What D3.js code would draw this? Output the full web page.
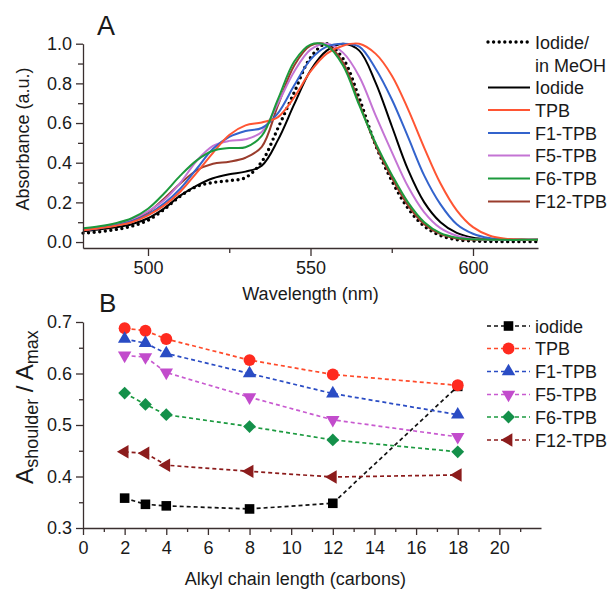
<!DOCTYPE html>
<html>
<head>
<meta charset="utf-8">
<script src="https://cdn.jsdelivr.net/npm/d3@7"></script>
<style>
  body { margin: 0; background: #fff; }
  text { font-family: "Liberation Sans", Arial, sans-serif; fill: #1a1a1a; }
  .axis path, .axis line { stroke: #3a2f2f; stroke-width: 1.3; }
  .axis text { font-size: 18px; fill: #1a1a1a; font-family: "Liberation Sans", Arial, sans-serif; }
</style>
</head>
<body>
<script>
// ---------- Panel A data: absorption spectra ----------
const wavelengths = [480,485,490,495,500,505,510,515,520,525,530,535,540,545,550,555,560,565,570,575,580,585,590,595,600,605,610,615,620];
const specMeOH  = [0.045,0.052,0.063,0.080,0.110,0.165,0.232,0.280,0.300,0.310,0.325,0.405,0.575,0.755,0.930,1.000,0.925,0.725,0.490,0.310,0.170,0.080,0.033,0.012,0.005,0.003,0.002,0.002,0.002];
const specIodide= [0.055,0.063,0.074,0.090,0.120,0.170,0.235,0.285,0.322,0.342,0.355,0.385,0.515,0.695,0.865,0.965,1.000,0.965,0.805,0.585,0.365,0.200,0.100,0.046,0.022,0.014,0.012,0.011,0.011];
const specTPB   = [0.060,0.070,0.082,0.100,0.135,0.185,0.255,0.350,0.450,0.540,0.588,0.603,0.630,0.730,0.860,0.950,0.990,1.000,0.950,0.840,0.670,0.475,0.295,0.160,0.075,0.033,0.017,0.013,0.012];
const specF1    = [0.060,0.070,0.085,0.105,0.140,0.195,0.270,0.370,0.470,0.530,0.560,0.575,0.650,0.790,0.920,0.985,1.000,0.985,0.875,0.720,0.530,0.335,0.190,0.090,0.042,0.020,0.013,0.012,0.012];
const specF5    = [0.065,0.075,0.090,0.115,0.155,0.212,0.300,0.410,0.485,0.510,0.518,0.555,0.700,0.860,0.970,1.000,0.955,0.835,0.640,0.455,0.280,0.150,0.070,0.032,0.016,0.012,0.011,0.011,0.011];
const specF6    = [0.070,0.080,0.095,0.120,0.168,0.246,0.336,0.412,0.460,0.474,0.478,0.535,0.720,0.910,0.995,0.990,0.890,0.690,0.500,0.340,0.200,0.100,0.045,0.022,0.014,0.012,0.011,0.011,0.011];
const specF12   = [0.062,0.072,0.086,0.108,0.150,0.220,0.296,0.362,0.395,0.405,0.425,0.480,0.690,0.890,0.990,0.995,0.905,0.700,0.490,0.325,0.185,0.090,0.040,0.018,0.012,0.011,0.011,0.011,0.011];
const specNames = ["Iodide/|in MeOH","Iodide","TPB","F1-TPB","F5-TPB","F6-TPB","F12-TPB"];
const wlTicks = [500,550,600];
const wlMinor = [525,575];
const absTicks = [0,0.2,0.4,0.6,0.8,1.0];
const absMinor = [0.1,0.3,0.5,0.7,0.9];

// ---------- Panel B data: shoulder ratio ----------
const chainLength = [2,3,4,8,12,18];
const ratioIodide = [0.358,0.346,0.343,0.337,0.348,0.575];
const ratioTPB    = [0.688,0.683,0.667,0.626,0.598,0.577];
const ratioF1     = [0.667,0.659,0.639,0.600,0.561,0.520];
const ratioF5     = [0.635,0.632,0.602,0.554,0.510,0.477];
const ratioF6     = [0.562,0.540,0.520,0.497,0.471,0.448];
const ratioF12    = [0.448,0.445,0.422,0.410,0.399,0.403];
const ratioNames  = ["iodide","TPB","F1-TPB","F5-TPB","F6-TPB","F12-TPB"];
const chainTicks = [0,2,4,6,8,10,12,14,16,18,20];
const chainMinor = [1,3,5,7,9,11,13,15,17,19,21];
const ratioTicks = [0.3,0.4,0.5,0.6,0.7];
const ratioMinor = [0.35,0.45,0.55,0.65];

const W = 610, H = 589;
const svg = d3.select("body").append("svg").attr("width", W).attr("height", H);

// ================= Panel A =================
const xA = d3.scaleLinear().domain([480, 620]).range([83, 538]);
const yA = d3.scaleLinear().domain([-0.03, 1.0]).range([248, 43.7]);

const specStyles = [
  {data: specMeOH,   color: "#000000", dotted: true},
  {data: specIodide, color: "#000000"},
  {data: specTPB,    color: "#ff5533"},
  {data: specF1,     color: "#3363cc"},
  {data: specF5,     color: "#c474d4"},
  {data: specF6,     color: "#1c9a3c"},
  {data: specF12,    color: "#9a3c2c"}
];

const lineA = d3.line().x(d => xA(d[0])).y(d => yA(d[1])).curve(d3.curveCatmullRom.alpha(0.5));
const drawOrder = [0,1,6,4,3,2,5];
drawOrder.forEach(i => {
  const s = specStyles[i];
  const pts = wavelengths.map((w, k) => [w, s.data[k]]);
  const p = svg.append("path").datum(pts).attr("d", lineA)
    .attr("fill", "none").attr("stroke", s.color);
  if (s.dotted) {
    p.attr("stroke-width", 3.4).attr("stroke-dasharray", "0,5.6").attr("stroke-linecap", "round");
  } else {
    p.attr("stroke-width", 2);
  }
});

// axes A
const gxA = svg.append("g").attr("class", "axis").attr("transform", "translate(0,248)")
  .call(d3.axisBottom(xA).tickValues(wlTicks).tickFormat(d3.format("d")).tickSize(8).tickPadding(5).tickSizeOuter(0));
svg.append("g").attr("class", "axis").attr("transform", "translate(0,248)")
  .call(d3.axisBottom(xA).tickValues(wlMinor).tickFormat("").tickSize(5).tickSizeOuter(0))
  .select(".domain").remove();
svg.append("g").attr("class", "axis").attr("transform", "translate(83,0)")
  .call(d3.axisLeft(yA).tickValues(absTicks).tickFormat(d3.format(".1f")).tickSize(7).tickPadding(4).tickSizeOuter(0));
svg.append("g").attr("class", "axis").attr("transform", "translate(83,0)")
  .call(d3.axisLeft(yA).tickValues(absMinor).tickFormat("").tickSize(5).tickSizeOuter(0))
  .select(".domain").remove();

svg.append("text").attr("x", 97).attr("y", 35).attr("font-size", 27).text("A");
svg.append("text").attr("transform", "translate(29,139) rotate(-90)").attr("text-anchor", "middle")
  .attr("font-size", 18).text("Absorbance (a.u.)");
svg.append("text").attr("x", xA(550)).attr("y", 300).attr("text-anchor", "middle")
  .attr("font-size", 18).text("Wavelength (nm)");

// legend A
const legA = svg.append("g");
const legARows = [42, 87.5, 110, 133, 155.5, 178.5, 201.5];
specStyles.forEach((s, i) => {
  const y = legARows[i];
  const l = legA.append("line").attr("x1", 488).attr("x2", 530).attr("y1", y).attr("y2", y)
    .attr("stroke", s.color);
  if (s.dotted) l.attr("stroke-width", 3.4).attr("stroke-dasharray", "0,5.6").attr("stroke-linecap", "round");
  else l.attr("stroke-width", 2);
  const parts = specNames[i].split("|");
  parts.forEach((t, j) => {
    legA.append("text").attr("x", 535).attr("y", y + 6.5 + j * 23).attr("font-size", 18).text(t);
  });
});

// ================= Panel B =================
const xB = d3.scaleLinear().domain([0, 22]).range([83, 541]);
const yB = d3.scaleLinear().domain([0.3, 0.7]).range([528, 322]);

const ratioStyles = [
  {data: ratioIodide, color: "#000000", line: "#111111", sym: "square"},
  {data: ratioTPB,    color: "#ff2a1f", line: "#ff4a2a", sym: "circle"},
  {data: ratioF1,     color: "#2a4cc4", line: "#2a4cc4", sym: "up"},
  {data: ratioF5,     color: "#c24ccc", line: "#c85ad0", sym: "down"},
  {data: ratioF6,     color: "#14904a", line: "#1c9a40", sym: "diamond"},
  {data: ratioF12,    color: "#8c1c1c", line: "#8c1c1c", sym: "left"}
];

function symbolPath(sym) {
  if (sym === "square") return {d: d3.symbol(d3.symbolSquare, 92)(), rot: 0};
  if (sym === "circle") return {d: d3.symbol(d3.symbolCircle, 112)(), rot: 0};
  if (sym === "diamond") return {d: d3.symbol(d3.symbolSquare, 82)(), rot: 45};
  const tri = d3.symbol(d3.symbolTriangle, 78)();
  if (sym === "up") return {d: tri, rot: 0};
  if (sym === "down") return {d: tri, rot: 180};
  return {d: tri, rot: -90};
}

const lineB = d3.line().x(d => xB(d[0])).y(d => yB(d[1]));
ratioStyles.forEach(s => {
  const pts = chainLength.map((c, k) => [c, s.data[k]]);
  svg.append("path").datum(pts).attr("d", lineB).attr("fill", "none")
    .attr("stroke", s.line).attr("stroke-width", 1.7).attr("stroke-dasharray", "4,3");
});
ratioStyles.forEach(s => {
  const sp = symbolPath(s.sym);
  chainLength.forEach((c, k) => {
    svg.append("path").attr("d", sp.d).attr("fill", s.color)
      .attr("transform", `translate(${xB(c)},${yB(s.data[k])}) rotate(${sp.rot})`);
  });
});

// axes B
svg.append("g").attr("class", "axis").attr("transform", "translate(0,528)")
  .call(d3.axisBottom(xB).tickValues(chainTicks).tickFormat(d3.format("d")).tickSize(7).tickPadding(6).tickSizeOuter(0));
svg.append("g").attr("class", "axis").attr("transform", "translate(0,528)")
  .call(d3.axisBottom(xB).tickValues(chainMinor).tickFormat("").tickSize(4).tickSizeOuter(0))
  .select(".domain").remove();
svg.append("g").attr("class", "axis").attr("transform", "translate(83,0)")
  .call(d3.axisLeft(yB).tickValues(ratioTicks).tickFormat(d3.format(".1f")).tickSize(7).tickPadding(4).tickSizeOuter(0));
svg.append("g").attr("class", "axis").attr("transform", "translate(83,0)")
  .call(d3.axisLeft(yB).tickValues(ratioMinor).tickFormat("").tickSize(4).tickSizeOuter(0))
  .select(".domain").remove();

svg.append("text").attr("x", 99).attr("y", 312).attr("font-size", 26).text("B");
const yl = svg.append("text").attr("transform", "translate(33,407) rotate(-90)").attr("text-anchor", "middle");
yl.append("tspan").attr("font-size", 24).text("A");
yl.append("tspan").attr("font-size", 18).attr("dy", 5).text("shoulder");
yl.append("tspan").attr("font-size", 24).attr("dy", -5).text(" / A");
yl.append("tspan").attr("font-size", 18).attr("dy", 5).text("max");
svg.append("text").attr("x", xB(10.2)).attr("y", 585).attr("text-anchor", "middle")
  .attr("font-size", 18).text("Alkyl chain length (carbons)");

// legend B
const legB = svg.append("g");
const legBRows = [326, 348.5, 371.5, 394.5, 417, 440];
ratioStyles.forEach((s, i) => {
  const y = legBRows[i];
  legB.append("line").attr("x1", 487).attr("x2", 530).attr("y1", y).attr("y2", y)
    .attr("stroke", s.line).attr("stroke-width", 1.7).attr("stroke-dasharray", "4,3");
  const sp = symbolPath(s.sym);
  legB.append("path").attr("d", sp.d).attr("fill", s.color)
    .attr("transform", `translate(508.5,${y}) rotate(${sp.rot})`);
  legB.append("text").attr("x", 535).attr("y", y + 6.5).attr("font-size", 18).text(ratioNames[i]);
});
</script>
</body>
</html>
